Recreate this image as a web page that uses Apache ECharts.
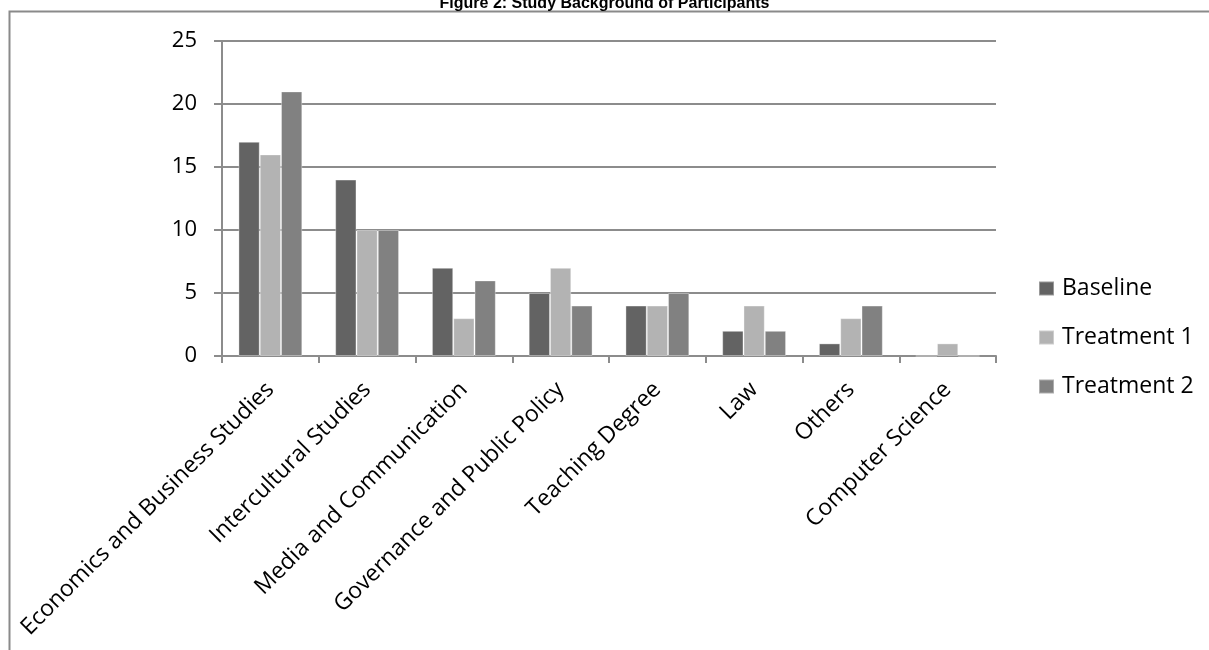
<!DOCTYPE html>
<html>
<head>
<meta charset="utf-8">
<script src="https://cdn.jsdelivr.net/npm/echarts@6/dist/echarts.min.js"></script>
<style>
  html, body { margin: 0; padding: 0; background: #fff; }
  #chart { width: 1209px; height: 650px; }
</style>
</head>
<body>
<div id="chart"></div>
<script>
// Study background of participants, by treatment group
const categories = [
  'Economics and Business Studies',
  'Intercultural Studies',
  'Media and Communication',
  'Governance and Public Policy',
  'Teaching Degree',
  'Law',
  'Others',
  'Computer Science'
];
const baseline   = [17, 14, 7, 5, 4, 2, 1, 0];
const treatment1 = [16, 10, 3, 7, 4, 4, 3, 1];
const treatment2 = [21, 10, 6, 4, 5, 2, 4, 0];
const yTicks = [0, 5, 10, 15, 20, 25];

const FONT = '"Open Sans", Lato, sans-serif';
const GRID_COLOR = '#8c8c8c';

const chart = echarts.init(document.getElementById('chart'), null, { renderer: 'canvas' });

function bar(name, data, color) {
  return {
    name, type: 'bar', data,
    barGap: '0%', barCategoryGap: '34%',
    itemStyle: { color, borderColor: 'rgba(255,255,255,0.35)', borderWidth: 1 }
  };
}

chart.setOption({
  animation: false,
  backgroundColor: '#fff',
  title: {
    text: 'Figure 2: Study Background of Participants',
    left: 'center', top: -9,
    textStyle: { fontFamily: '"Liberation Sans", Arial, sans-serif', fontWeight: 'bold', fontSize: 16, color: '#000' }
  },
  graphic: [{
    type: 'rect', silent: true, z: -1,
    shape: { x: 9.5, y: 11.5, width: 1300, height: 800 },
    style: { fill: 'none', stroke: '#8a8a8a', lineWidth: 2 }
  }],
  legend: {
    orient: 'vertical',
    left: 1038, top: 277, padding: 0,
    itemWidth: 15, itemHeight: 14, itemGap: 26,
    icon: 'rect',
    textStyle: { fontFamily: FONT, fontSize: 23, lineHeight: 22, color: '#000', padding: [0, 0, 0, 3] },
    data: ['Baseline', 'Treatment 1', 'Treatment 2']
  },
  grid: { left: 222, right: 213, top: 41, bottom: 294, containLabel: false },
  xAxis: {
    type: 'category',
    data: categories,
    axisLine: { lineStyle: { color: GRID_COLOR, width: 2 } },
    axisTick: { show: true, length: 7, alignWithLabel: false, interval: 0, lineStyle: { color: GRID_COLOR, width: 2 } },
    axisLabel: {
      interval: 0, rotate: 45, margin: 30,
      fontFamily: FONT, fontSize: 23, color: '#000'
    }
  },
  yAxis: {
    type: 'value',
    min: yTicks[0], max: yTicks[yTicks.length - 1], interval: 5,
    axisLine: { show: true, lineStyle: { color: GRID_COLOR, width: 2 } },
    axisTick: { show: true, length: 8, lineStyle: { color: GRID_COLOR, width: 2 } },
    axisLabel: { margin: 25, fontFamily: FONT, fontSize: 22, color: '#000' },
    splitLine: { lineStyle: { color: GRID_COLOR, width: 2 } }
  },
  series: [
    bar('Baseline', baseline, '#636363'),
    bar('Treatment 1', treatment1, '#b3b3b3'),
    bar('Treatment 2', treatment2, '#818181')
  ]
});
</script>
</body>
</html>
